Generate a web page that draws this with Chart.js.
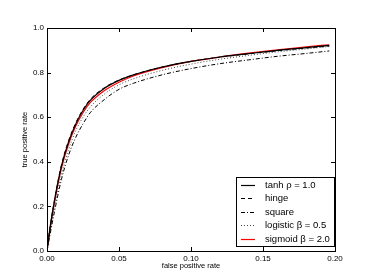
<!DOCTYPE html>
<html>
<head>
<meta charset="utf-8">
<script src="https://cdn.jsdelivr.net/npm/chart.js@4.4.0/dist/chart.umd.min.js"></script>
<style>
  html, body { margin: 0; padding: 0; background: #fff; }
  #wrap { position: relative; width: 374px; height: 280px; }
</style>
</head>
<body>
<div id="wrap"><canvas id="roc"></canvas></div>
<script>
// false positive rate (x) shared by all curves
const fpr = [0, 0.002, 0.005, 0.01, 0.015, 0.02, 0.025, 0.03, 0.04, 0.05, 0.06, 0.08, 0.10, 0.12, 0.14, 0.16, 0.18, 0.196];

// true positive rate per loss
const tanhTpr     = [0, 0.10, 0.22, 0.38, 0.49, 0.57, 0.63, 0.675, 0.73, 0.765, 0.79, 0.825, 0.85, 0.87, 0.885, 0.90, 0.912, 0.922];
const hingeTpr    = [0, 0.10, 0.22, 0.385, 0.495, 0.575, 0.635, 0.68, 0.733, 0.767, 0.79, 0.825, 0.85, 0.869, 0.884, 0.898, 0.91, 0.919];
const squareTpr   = [0, 0.07, 0.17, 0.32, 0.43, 0.51, 0.57, 0.62, 0.68, 0.725, 0.752, 0.79, 0.818, 0.84, 0.857, 0.873, 0.886, 0.897];
const logisticTpr = [0, 0.08, 0.19, 0.34, 0.455, 0.54, 0.60, 0.645, 0.705, 0.745, 0.772, 0.81, 0.838, 0.86, 0.877, 0.893, 0.906, 0.917];
const sigmoidTpr  = [0, 0.09, 0.21, 0.37, 0.48, 0.56, 0.62, 0.665, 0.72, 0.757, 0.785, 0.822, 0.85, 0.87, 0.887, 0.902, 0.915, 0.925];

const seriesLabels = ['tanh \u03c1 = 1.0', 'hinge', 'square', 'logistic \u03b2 = 0.5', 'sigmoid \u03b2 = 2.0'];

const xTicks = [0, 0.05, 0.10, 0.15, 0.20];
const yTicks = [0, 0.2, 0.4, 0.6, 0.8, 1.0];

const FONT = '"Liberation Sans", Arial, sans-serif';

const toPoints = (ys) => ys.map((y, i) => ({ x: fpr[i], y: y }));

const styles = [
  { color: '#000', width: 1.2, dash: [] },
  { color: '#000', width: 1, dash: [4, 3] },
  { color: '#000', width: 1, dash: [4, 2, 1, 2] },
  { color: '#444', width: 1, dash: [1, 2] },
  { color: '#f00', width: 1.2, dash: [] },
];
const allTpr = [tanhTpr, hingeTpr, squareTpr, logisticTpr, sigmoidTpr];

// frame + inward ticks on all four sides
const frameTicks = {
  id: 'frameTicks',
  afterDatasetsDraw(chart) {
    const { ctx, chartArea: a, scales } = chart;
    ctx.save();
    ctx.strokeStyle = '#000';
    ctx.lineWidth = 1;
    ctx.beginPath();
    xTicks.forEach(v => {
      const px = Math.round(scales.x.getPixelForValue(v)) + 0.5;
      ctx.moveTo(px, a.bottom); ctx.lineTo(px, a.bottom - 4);
      ctx.moveTo(px, a.top); ctx.lineTo(px, a.top + 4);
    });
    yTicks.forEach(v => {
      const py = Math.round(scales.y.getPixelForValue(v)) + 0.5;
      ctx.moveTo(a.left, py); ctx.lineTo(a.left + 4, py);
      ctx.moveTo(a.right, py); ctx.lineTo(a.right - 4, py);
    });
    ctx.stroke();
    ctx.strokeRect(Math.round(a.left) + 0.5, Math.round(a.top) + 0.5,
                   Math.round(a.right - a.left), Math.round(a.bottom - a.top));
    ctx.restore();
  }
};

// legend box in lower right like matplotlib
const boxLegend = {
  id: 'boxLegend',
  afterDraw(chart) {
    const { ctx } = chart;
    const bx = 236.5, by = 177.5, bw = 98, bh = 69;
    ctx.save();
    ctx.fillStyle = '#fff';
    ctx.fillRect(bx, by, bw, bh);
    ctx.strokeStyle = '#000';
    ctx.lineWidth = 1;
    ctx.strokeRect(bx, by, bw, bh);
    ctx.font = '9.5px ' + FONT;
    ctx.textBaseline = 'middle';
    ctx.fillStyle = '#000';
    seriesLabels.forEach((lab, i) => {
      const y = Math.round(184.5 + i * 13.5) + 0.5;
      const s = styles[i];
      ctx.beginPath();
      ctx.setLineDash(s.dash);
      ctx.strokeStyle = s.color;
      ctx.lineWidth = s.width;
      ctx.moveTo(241, y); ctx.lineTo(255, y);
      ctx.stroke();
      ctx.setLineDash([]);
      ctx.fillText(lab, 265, y);
    });
    ctx.restore();
  }
};

new Chart(document.getElementById('roc'), {
  type: 'line',
  data: {
    datasets: allTpr.map((ys, i) => ({
      label: seriesLabels[i],
      data: toPoints(ys),
      borderColor: styles[i].color,
      borderWidth: styles[i].width,
      borderDash: styles[i].dash,
      pointRadius: 0,
      fill: false,
      cubicInterpolationMode: 'monotone',
    })),
  },
  options: {
    responsive: true,
    maintainAspectRatio: false,
    animation: false,
    layout: { padding: { top: 28, right: 39, left: 0, bottom: 0 } },
    plugins: { legend: { display: false }, tooltip: { enabled: false } },
    scales: {
      x: {
        type: 'linear', min: 0, max: 0.2,
        afterBuildTicks: (s) => { s.ticks = xTicks.map(v => ({ value: v })); },
        afterFit: (s) => { s.height = 29; },
        grid: { display: false, drawTicks: false },
        border: { display: false },
        ticks: {
          autoSkip: false, maxRotation: 0, padding: 3, color: '#000',
          font: { size: 8, family: FONT },
          callback: (v) => v.toFixed(2),
        },
        title: {
          display: true, text: 'false positive rate', color: '#000',
          font: { size: 7.5, family: FONT }, padding: { top: 0, bottom: 10 },
        },
      },
      y: {
        type: 'linear', min: 0, max: 1,
        afterBuildTicks: (s) => { s.ticks = yTicks.map(v => ({ value: v })); },
        afterFit: (s) => { s.width = 47; },
        grid: { display: false, drawTicks: false },
        border: { display: false },
        ticks: {
          autoSkip: false, padding: 3, color: '#000',
          font: { size: 8, family: FONT },
          callback: (v) => v.toFixed(1),
        },
        title: {
          display: true, text: 'true positive rate', color: '#000',
          font: { size: 7.5, family: FONT }, padding: { top: 20, bottom: 0 },
        },
      },
    },
  },
  plugins: [frameTicks, boxLegend],
});
</script>
</body>
</html>
